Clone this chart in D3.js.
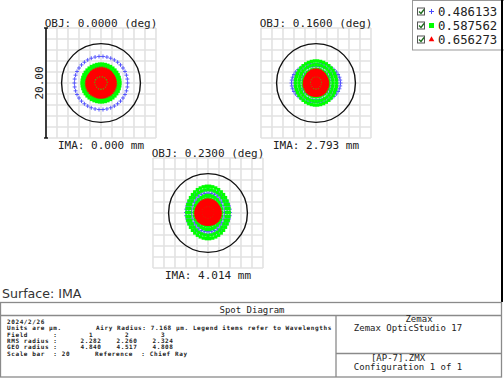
<!DOCTYPE html>
<html><head><meta charset="utf-8">
<script src="https://cdn.jsdelivr.net/npm/d3@7"></script>
<style>body{margin:0;background:#fff}svg{display:block}</style>
</head><body>
<script>
// ---- data ----
const fieldDeg = ["0.0000", "0.1600", "0.2300"];
const imaHeight = ["0.000", "2.793", "4.014"];
const wavelengths = ["0.486133", "0.587562", "0.656273"];
const fieldNums = ["1", "2", "3"];
const rmsRadius = ["2.282", "2.260", "2.324"];
const geoRadius = ["4.840", "4.517", "4.808"];
const airyRadius = 7.168;   // µm
const scaleBar = 20;        // µm
// pupil ring images (µm, x semi-axis) for hexapolar rings 1..7 per field
const ringsBlue  = [[0.55,1.1,1.65,2.2,2.75,3.2,4.84],
                    [0.6,1.2,1.8,2.4,3.0,3.8,4.45],
                    [0.6,1.2,1.8,2.4,3.0,3.5,4.0]];
const ringsGreen = [[0.5,1.0,1.5,2.0,2.5,3.0,3.45],
                    [0.55,1.1,1.6,2.0,2.35,3.1,3.75],
                    [0.5,1.0,1.5,2.0,2.5,3.35,3.85]];
const ringsRed   = [[0.4,0.8,1.45,1.75,2.05,2.3,2.55],
                    [0.35,0.7,1.3,1.55,1.75,1.9,2.05],
                    [0.4,0.8,1.3,1.6,1.85,2.0,2.15]];
const aspectBlue  = [1.0, 0.8, 1.0];   // y / x
const aspectGreen = [1.0, 1.07, 1.24];
const aspectRed   = [1.0, 1.1, 1.0];
const centerDy    = [0.0, 0.0, 0.1];   // µm

const W = 504, H = 378;
const svg = d3.select("body").append("svg").attr("width", W).attr("height", H);
const mono = "DejaVu Sans Mono";

const plotLeft = [46, 261, 153], plotTop = [28, 28, 158], S = 110;

function pupilPoints(radii, aspect, dy) {
  const pts = [[0, dy]];
  radii.forEach((r, i) => {
    const n = 6 * (i + 1);
    for (let k = 0; k < n; k++) {
      const a = 2 * Math.PI * k / n;
      pts.push([r * Math.cos(a), r * Math.sin(a) * aspect + dy]);
    }
  });
  return pts;
}

fieldDeg.forEach((fd, f) => {
  const x = d3.scaleLinear().domain([-scaleBar/2, scaleBar/2]).range([plotLeft[f], plotLeft[f] + S]);
  const y = d3.scaleLinear().domain([scaleBar/2, -scaleBar/2]).range([plotTop[f], plotTop[f] + S]);
  const g = svg.append("g");
  const ticks = d3.range(-10, 10.001, 2);
  g.selectAll(".vx").data(ticks).join("line")
    .attr("x1", d => x(d)).attr("x2", d => x(d)).attr("y1", y(10)).attr("y2", y(-10))
    .attr("stroke", "#e2e2e2").attr("stroke-width", 1.6);
  g.selectAll(".hy").data(ticks).join("line")
    .attr("y1", d => y(d)).attr("y2", d => y(d)).attr("x1", x(-10)).attr("x2", x(10))
    .attr("stroke", "#e2e2e2").attr("stroke-width", 1.6);
  // blue crosses
  g.selectAll(".b").data(pupilPoints(ringsBlue[f], aspectBlue[f], centerDy[f])).join("path")
    .attr("d", d => `M${x(d[0])-2},${y(d[1])}h4M${x(d[0])},${y(d[1])-2}v4`)
    .attr("stroke", "#4a4aff").attr("stroke-width", 0.9).attr("fill", "none");
  // green squares
  g.selectAll(".gsq").data(pupilPoints(ringsGreen[f], aspectGreen[f], centerDy[f])).join("rect")
    .attr("x", d => x(d[0]) - 1.7).attr("y", d => y(d[1]) - 1.7)
    .attr("width", 3.4).attr("height", 3.4).attr("fill", "#00ff00");
  // red triangles
  const tri = d3.symbol(d3.symbolTriangle).size(11);
  g.selectAll(".r").data(pupilPoints(ringsRed[f], aspectRed[f], centerDy[f])).join("path")
    .attr("d", tri).attr("transform", d => `translate(${x(d[0])},${y(d[1])})`)
    .attr("fill", "#ff0000");
  // airy circle
  g.append("ellipse").attr("cx", x(0)).attr("cy", y(0))
    .attr("rx", x(airyRadius) - x(0)).attr("ry", y(0) - y(airyRadius))
    .attr("fill", "none").attr("stroke", "#111").attr("stroke-width", 1.4);
  // labels
  g.append("text").attr("x", x(0)).attr("y", plotTop[f] - 1.5).attr("text-anchor", "middle")
    .attr("font-family", mono).attr("font-size", 11).attr("fill", "#222")
    .text(`OBJ: ${fd} (deg)`);
  g.append("text").attr("x", x(0)).attr("y", plotTop[f] + S + 11).attr("text-anchor", "middle")
    .attr("font-family", mono).attr("font-size", 11).attr("fill", "#222")
    .text(`IMA: ${imaHeight[f]} mm`);
  if (f === 0) {
    g.append("line").attr("x1", x(-10)).attr("x2", x(-10)).attr("y1", y(10)).attr("y2", y(-10))
      .attr("stroke", "#111").attr("stroke-width", 1.6);
    [10, -10].forEach(v => g.append("line").attr("x1", x(-10) - 2).attr("x2", x(-10) + 2)
      .attr("y1", y(v)).attr("y2", y(v)).attr("stroke", "#111").attr("stroke-width", 1.4));
    g.append("text").attr("transform", `translate(${x(-10) - 3},${y(0)}) rotate(-90)`)
      .attr("text-anchor", "middle").attr("font-family", mono).attr("font-size", 11).attr("fill", "#222")
      .text(scaleBar.toFixed(2));
  }
});

// legend
const lg = svg.append("g");
lg.append("rect").attr("x", 412.5).attr("y", 0.5).attr("width", 95).attr("height", 49.5)
  .attr("fill", "#fff").attr("stroke", "#999");
const legColors = ["#4a4aff", "#00ff00", "#ff0000"];
wavelengths.forEach((w, i) => {
  const cy = 11.5 + i * 14;
  lg.append("rect").attr("x", 417.5).attr("y", cy - 3.5).attr("width", 7).attr("height", 7)
    .attr("fill", "#fff").attr("stroke", "#555");
  lg.append("path").attr("d", `M419,${cy}l2,2l3,-4`).attr("stroke", "#1a6b1a").attr("stroke-width", 1.3).attr("fill", "none");
  if (i === 0) lg.append("path").attr("d", `M429,${cy}h5M431.5,${cy-2.5}v5`).attr("stroke", legColors[0]).attr("stroke-width", 1);
  if (i === 1) lg.append("rect").attr("x", 429).attr("y", cy - 2.5).attr("width", 5).attr("height", 5).attr("fill", legColors[1]);
  if (i === 2) lg.append("path").attr("d", d3.symbol(d3.symbolTriangle).size(14)).attr("transform", `translate(431.5,${cy})`).attr("fill", legColors[2]);
  lg.append("text").attr("x", 438).attr("y", cy + 4.5).attr("font-family", mono).attr("font-size", 12.3)
    .attr("fill", "#222").text(w);
});
// right black border
svg.append("line").attr("x1", 502).attr("x2", 502).attr("y1", 0).attr("y2", 302).attr("stroke", "#000").attr("stroke-width", 2);

// surface label
svg.append("text").attr("x", 2).attr("y", 298).attr("font-family", "DejaVu Sans").attr("font-size", 12.6)
  .attr("fill", "#333").text("Surface: IMA");

// table
const tb = svg.append("g").attr("stroke", "#8a8a8a").attr("stroke-width", 1.3).attr("fill", "none");
tb.append("rect").attr("x", 0.5).attr("y", 302.5).attr("width", 501).attr("height", 74.5);
tb.append("line").attr("x1", 0).attr("x2", 502).attr("y1", 315.5).attr("y2", 315.5);
tb.append("line").attr("x1", 336).attr("x2", 336).attr("y1", 315.5).attr("y2", 377);
tb.append("line").attr("x1", 336).attr("x2", 502).attr("y1", 353.5).attr("y2", 353.5);

const t = (x, y, s, opts = {}) => svg.append("text").attr("x", x).attr("y", y)
  .attr("font-family", mono).attr("font-size", opts.size || 9).attr("fill", "#222")
  .attr("font-weight", opts.bold ? "bold" : null)
  .attr("letter-spacing", opts.ls || null)
  .attr("text-anchor", opts.anchor || "start").attr("xml:space", "preserve").style("white-space", "pre").text(s);
t(252, 313, "Spot Diagram", {anchor: "middle"});
t(419, 322, "Zemax", {anchor: "middle"});
t(408, 331, "Zemax OpticStudio 17", {anchor: "middle"});
t(398, 361, "[AP-7].ZMX", {anchor: "middle"});
t(408, 370, "Configuration 1 of 1", {anchor: "middle"});

const sm = {size: 6, bold: true, ls: 0.6};
const smc = {size: 6, bold: true, ls: 0.6, anchor: "middle"};
const base = 324, lh = 6.3;
t(7, base, "2024/2/26", sm);
t(7, base + lh, "Units are µm.", sm);
t(96, base + lh, `Airy Radius: ${airyRadius.toFixed(3)} µm. Legend items refer to Wavelengths`, sm);
t(7, base + 2*lh, "Field      :", sm);
t(7, base + 3*lh, "RMS radius :", sm);
t(7, base + 4*lh, "GEO radius :", sm);
t(7, base + 5*lh, `Scale bar  : ${scaleBar}`, sm);
t(95, base + 5*lh, "Reference  : Chief Ray", sm);
const colX = [91, 127, 163];
fieldNums.forEach((v, i) => t(colX[i], base + 2*lh, v, smc));
rmsRadius.forEach((v, i) => t(colX[i], base + 3*lh, v, smc));
geoRadius.forEach((v, i) => t(colX[i], base + 4*lh, v, smc));
</script>
</body></html>
